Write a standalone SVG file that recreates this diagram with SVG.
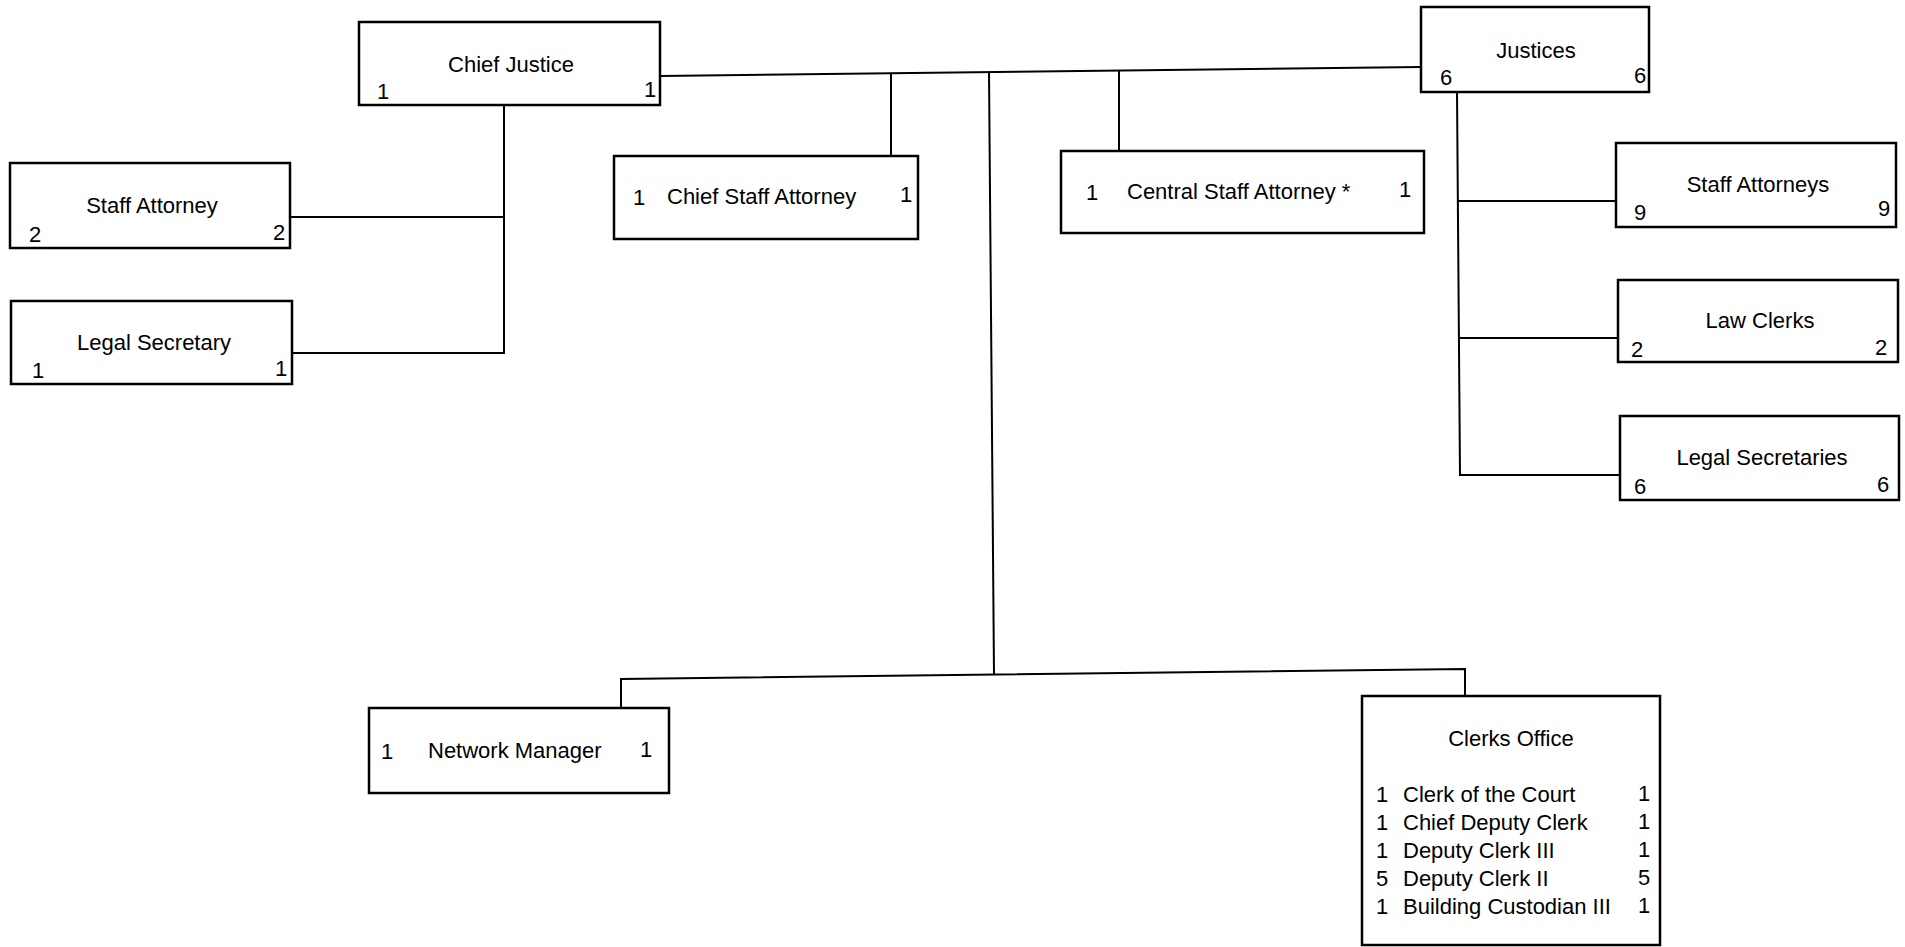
<svg xmlns="http://www.w3.org/2000/svg" width="1905" height="947" viewBox="0 0 1905 947">
<style>
.box{fill:#fff;stroke:#000;stroke-width:2.5}
.con{fill:none;stroke:#000;stroke-width:2}
text{font-family:"Liberation Sans",Arial,sans-serif;font-size:22px;fill:#000}
.c{text-anchor:middle}
</style>
<rect width="1905" height="947" fill="#fff"/>
<g id="connectors">
<path class="con" d="M660,76 L1421,67"/>
<path class="con" d="M891,74 V156"/>
<path class="con" d="M989,72 L994,674"/>
<path class="con" d="M1119,70 V151"/>
<path class="con" d="M504,105 V353 M290,217 H505 M292,353 H505"/>
<path class="con" d="M1457,92 L1460,476 M1458,201 H1616 M1459,338 H1618 M1459,475 H1620"/>
<path class="con" d="M621,708 V679 L1465,669 V696"/>
</g>
<g id="chief-justice">
<rect class="box" x="359" y="22" width="301" height="83"/>
<text class="c" x="511" y="72">Chief Justice</text>
<text class="c" x="383" y="99">1</text>
<text class="c" x="650" y="97">1</text>
</g>
<g id="staff-attorney">
<rect class="box" x="10" y="163" width="280" height="85"/>
<text class="c" x="152" y="213">Staff Attorney</text>
<text class="c" x="35" y="242">2</text>
<text class="c" x="279" y="240">2</text>
</g>
<g id="legal-secretary">
<rect class="box" x="11" y="301" width="281" height="83"/>
<text class="c" x="154" y="350">Legal Secretary</text>
<text class="c" x="38" y="378">1</text>
<text class="c" x="281" y="376">1</text>
</g>
<g id="chief-staff-attorney">
<rect class="box" x="614" y="156" width="304" height="83"/>
<text class="c" x="639" y="205">1</text>
<text x="667" y="204">Chief Staff Attorney</text>
<text class="c" x="906" y="202">1</text>
</g>
<g id="central-staff-attorney">
<rect class="box" x="1061" y="151" width="363" height="82"/>
<text class="c" x="1092" y="200">1</text>
<text x="1127" y="199">Central Staff Attorney *</text>
<text class="c" x="1405" y="197">1</text>
</g>
<g id="justices">
<rect class="box" x="1421" y="7" width="228" height="85"/>
<text class="c" x="1536" y="58">Justices</text>
<text class="c" x="1446" y="85">6</text>
<text class="c" x="1640" y="83">6</text>
</g>
<g id="staff-attorneys">
<rect class="box" x="1616" y="143" width="280" height="84"/>
<text class="c" x="1758" y="192">Staff Attorneys</text>
<text class="c" x="1640" y="220">9</text>
<text class="c" x="1884" y="216">9</text>
</g>
<g id="law-clerks">
<rect class="box" x="1618" y="280" width="280" height="82"/>
<text class="c" x="1760" y="328">Law Clerks</text>
<text class="c" x="1637" y="357">2</text>
<text class="c" x="1881" y="355">2</text>
</g>
<g id="legal-secretaries">
<rect class="box" x="1620" y="416" width="279" height="84"/>
<text class="c" x="1762" y="465">Legal Secretaries</text>
<text class="c" x="1640" y="494">6</text>
<text class="c" x="1883" y="492">6</text>
</g>
<g id="network-manager">
<rect class="box" x="369" y="708" width="300" height="85"/>
<text class="c" x="387" y="759">1</text>
<text x="428" y="758">Network Manager</text>
<text class="c" x="646" y="757">1</text>
</g>
<g id="clerks-office">
<rect class="box" x="1362" y="696" width="298" height="249"/>
<text class="c" x="1511" y="746">Clerks Office</text>
<text class="c" x="1382" y="802">1</text><text x="1403" y="802">Clerk of the Court</text><text class="c" x="1644" y="801">1</text>
<text class="c" x="1382" y="830">1</text><text x="1403" y="830">Chief Deputy Clerk</text><text class="c" x="1644" y="829">1</text>
<text class="c" x="1382" y="858">1</text><text x="1403" y="858">Deputy Clerk III</text><text class="c" x="1644" y="857">1</text>
<text class="c" x="1382" y="886">5</text><text x="1403" y="886">Deputy Clerk II</text><text class="c" x="1644" y="885">5</text>
<text class="c" x="1382" y="914">1</text><text x="1403" y="914">Building Custodian III</text><text class="c" x="1644" y="913">1</text>
</g>
</svg>
